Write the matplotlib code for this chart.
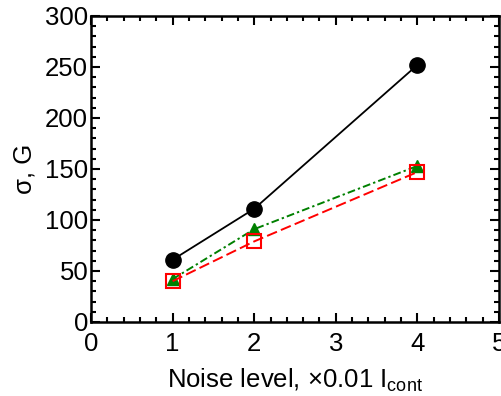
import matplotlib
matplotlib.use("Agg")
import matplotlib.pyplot as plt
from matplotlib.ticker import MultipleLocator

plt.rcParams['font.family'] = ['Liberation Sans', 'DejaVu Sans']
plt.rcParams['mathtext.fontset'] = 'custom'
plt.rcParams['mathtext.rm'] = 'Liberation Sans'

noise = [1, 2, 4]
sigma_black = [61, 111, 252]
sigma_green = [42, 91, 153]
sigma_red = [40, 79, 147]

fig = plt.figure(figsize=(5.02, 3.96), dpi=100)
ax = fig.add_axes([0.1813, 0.1869, 0.8127, 0.7727])

ax.plot(noise, sigma_black, '-', color='black', lw=1.3, marker='o', ms=11)
ax.plot(noise, sigma_green, color='green', lw=1.4, marker='^', ms=8,
        dashes=(4, 1.6, 1.2, 1.6))
ax.plot(noise, sigma_red, color='red', lw=1.4, marker='s', ms=10,
        mfc='none', mec='red', mew=1.5, dashes=(5.5, 2.2))

ax.set_xlim(0, 5)
ax.set_ylim(0, 300)
ax.xaxis.set_major_locator(MultipleLocator(1))
ax.xaxis.set_minor_locator(MultipleLocator(0.2))
ax.yaxis.set_major_locator(MultipleLocator(50))
ax.yaxis.set_minor_locator(MultipleLocator(10))
ax.tick_params(which='both', direction='in', top=True, right=True, width=1.5,
               labelsize=18.5)
ax.tick_params(axis='y', pad=2)
ax.tick_params(axis='x', pad=7)
ax.tick_params(which='major', length=6.5)
ax.tick_params(which='minor', length=3.5)
for s in ax.spines.values():
    s.set_linewidth(1.8)

ax.set_xlabel(r'Noise level, ×0.01 I$_{\rm cont}$', fontsize=18.5, labelpad=8)
ax.set_ylabel('σ, G', fontsize=18.5, labelpad=6)

fig.savefig('out.png', dpi=100)
